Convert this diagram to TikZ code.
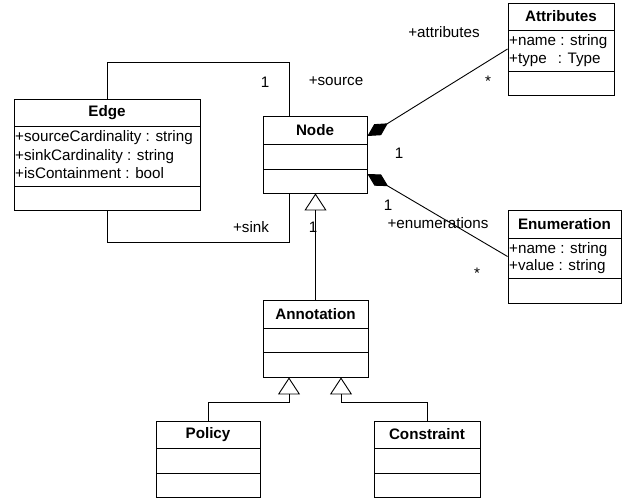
\documentclass[tikz,border=0pt]{standalone}
\usepackage{fontspec}
\setmainfont{Liberation Sans}
\usetikzlibrary{arrows.meta}
\newcommand{\umlclass}[8]{%
  \node[classbox, minimum width={(#4-#2)*1pt}, minimum height={(#5-#3)*1pt}] (#1) at ({(#2+#4)/2},{(#3+#5)/2}) {};
  \draw[umlline] (#2,#6) -- (#4,#6);
  \draw[umlline] (#2,#7) -- (#4,#7);
  \node[classtitle] (#1-title) at ({(#2+#4)/2},{(#3+#6)/2}) {#8};
}
\begin{document}
\begin{tikzpicture}[x=1pt,y=-1pt,
  umlline/.style={line width=0.9pt, draw=black},
  classbox/.style={draw=black, line width=0.9pt, fill=white, inner sep=0pt, rectangle},
  classtitle/.style={inner sep=0pt, font=\fontsize{15.2}{18}\selectfont\bfseries},
  attr/.style={anchor=west, inner sep=0pt, text height=11pt, text depth=3pt, font=\fontsize{15.2}{18}\selectfont},
  lbl/.style={inner sep=0pt, font=\fontsize{15.2}{18}\selectfont},
  conn/.style={line width=0.9pt, draw=black},
  inherit/.style={conn, -{Triangle[open, width=22pt, length=17pt, line width=0.9pt]}},
  comp/.style={conn, -{Diamond[length=24pt, width=13pt]}},
  line join=miter]
\useasboundingbox[fill=white] (0,0) rectangle (625,502);

\umlclass{edgebox}{14}{99}{200}{210}{126}{186}{Edge}
\node[attr] (ea1) at (15,138) {+sourceCardinality : string};
\node[attr] (ea2) at (15,157) {+sinkCardinality : string};
\node[attr] (ea3) at (15,175) {+isContainment : bool};

\umlclass{nodebox}{263}{116}{367}{193}{144}{169}{Node}

\umlclass{attrbox}{508}{3}{614}{95}{30}{71}{Attributes}
\node[attr] (aa1) at (509,42) {+name : string};
\node[attr] (aa2) at (509,60) {+type\hspace{11pt}: Type};

\umlclass{enumbox}{508}{210}{621}{303}{238}{278}{Enumeration}
\node[attr] (na1) at (509,250) {+name : string};
\node[attr] (na2) at (509,267) {+value : string};

\umlclass{annot}{263}{300}{368}{377}{328}{352}{Annotation}
\umlclass{policy}{156}{421}{260}{497}{448}{473}{Policy}
\umlclass{constr}{374}{421}{480}{497}{448}{473}{Constraint}

% Edge -- Node associations
\coordinate (srcc) at (289,62);
\coordinate (sinkc) at (289,242);
\draw[conn] (edgebox.north) |- (srcc) -- (srcc |- nodebox.north);
\draw[conn] (edgebox.south) |- (sinkc) -- (sinkc |- nodebox.south);

% compositions
\draw[comp] (attrbox.west) -- ([yshift=18.5pt]nodebox.east);
\draw[comp] (enumbox.west) -- ([yshift=-19.5pt]nodebox.east);

% inheritance
\draw[inherit] (annot.north) -- (annot.north |- nodebox.south);
\coordinate (pl) at (289,402);
\coordinate (cl) at (341,402);
\draw[inherit] (policy.north) |- (pl) -- (pl |- annot.south);
\draw[inherit] (constr.north) |- (cl) -- (cl |- annot.south);

% labels
\node[lbl] (l1) at (444,32) {+attributes};
\node[lbl] (l2) at (488,81) {*};
\node[lbl] (l3) at (265,82) {1};
\node[lbl] (l4) at (336,81) {+source};
\node[lbl] (l5) at (399,153) {1};
\node[lbl] (l6) at (388,205) {1};
\node[lbl] (l7) at (438,223) {+enumerations};
\node[lbl] (l8) at (477,273) {*};
\node[lbl] (l9) at (251,227) {+sink};
\node[lbl] (l10) at (313,227) {1};
\end{tikzpicture}
\end{document}
